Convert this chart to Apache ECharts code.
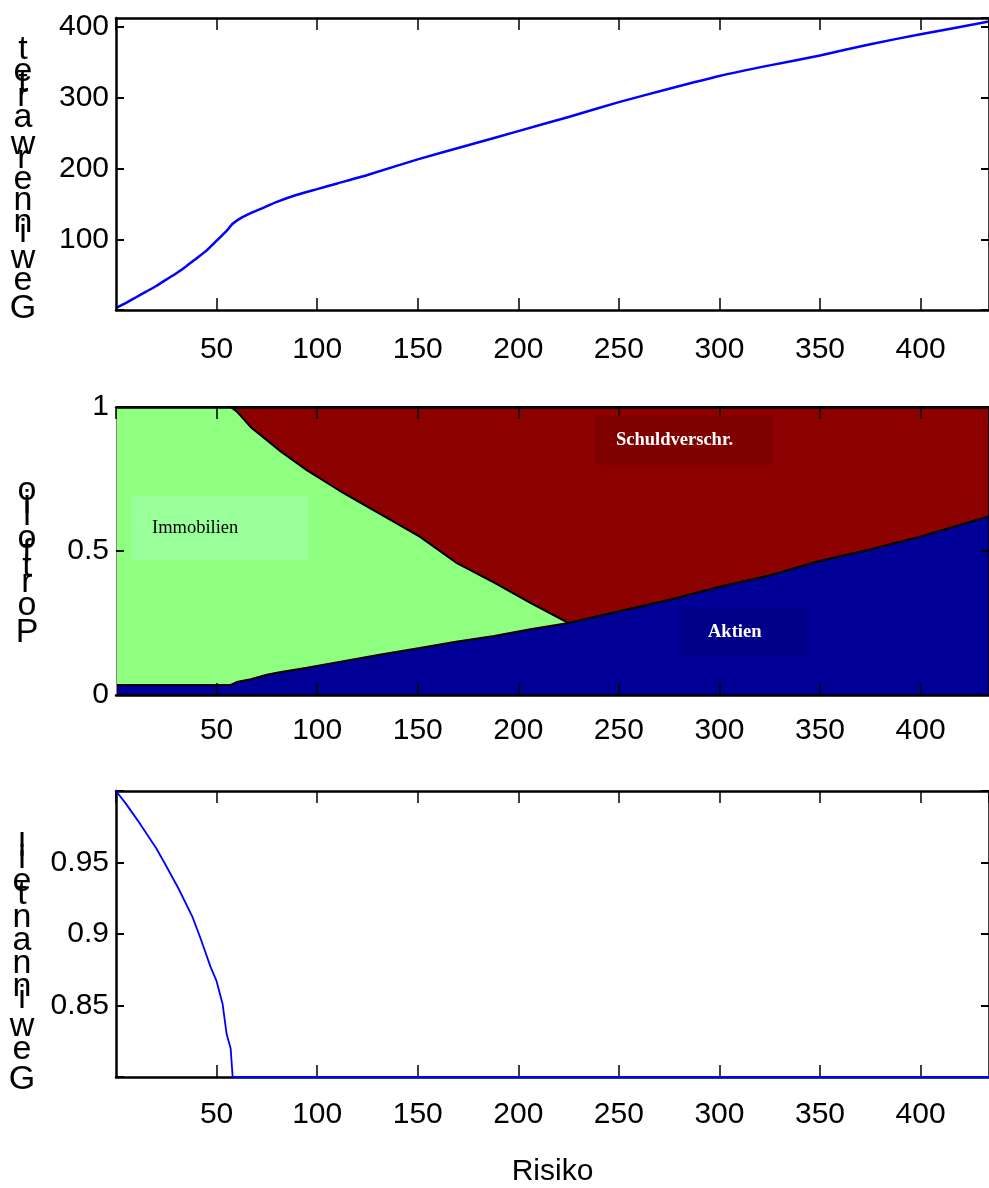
<!DOCTYPE html>
<html><head><meta charset="utf-8">
<script src="https://cdn.jsdelivr.net/npm/echarts@6/dist/echarts.min.js"></script>
<style>html,body{margin:0;padding:0;background:#fff}#c{width:989px;height:1188px}</style>
</head><body><div id="c"></div>
<script>
// ---- data ----
const x1 = [0,5,10,15,20,25,30,35,40,45,50,55,58,62,67,72,80,90,100,110,125,150,175,200,225,250,275,300,325,350,375,400,434];
const gewinnwert = [3,10,18,26,34,43,52,62,73,84,98,112,122,130,137,143,153,163,171,179,191,213,233,253,273,294,313,331,346,360,376,390,408];

const x2 = [0,57,60,67,75,82,95,111,131,151,169,188,206,225,250,275,300,325,350,375,400,434];
const aktien = [0.035,0.035,0.045,0.055,0.07,0.08,0.095,0.115,0.14,0.163,0.185,0.205,0.228,0.25,0.29,0.33,0.375,0.415,0.465,0.505,0.55,0.62];
const immobilien = [0.965,0.965,0.94,0.875,0.815,0.765,0.685,0.595,0.49,0.387,0.275,0.185,0.092,0,0,0,0,0,0,0,0,0];
const schuldverschr = [0,0,0.015,0.07,0.115,0.155,0.22,0.29,0.37,0.45,0.54,0.61,0.68,0.75,0.71,0.67,0.625,0.585,0.535,0.495,0.45,0.38];

const x3 = [0,5,12,20,24,31,38,42,47,50,53,55,57,58,434];
const gewinnanteil = [1.0,0.991,0.977,0.96,0.95,0.932,0.912,0.897,0.877,0.867,0.851,0.83,0.82,0.8,0.8];

const yTitles = ['Gewinnerwartet','Portfolio','Gewinnanteil'];
const xTitle = 'Risiko';
const areaNames = ['Aktien','Immobilien','Schuldverschr.'];

// ---- styles ----
const F = "'Liberation Sans',Arial,sans-serif";
const SERIF = "'Liberation Serif','Times New Roman',serif";
const FS = 30;
const TFS = 34;
const grids = [
  {left:116, top:18, width:877, height:292},
  {left:116, top:407, width:877, height:288},
  {left:116, top:791, width:877, height:290}
];
const yRanges = [
  {min:0, max:413, interval:100, hide:[0]},
  {min:0, max:1, interval:0.5, hide:[]},
  {min:0.8, max:1.0, interval:0.05, hide:[0.8,1.0]}
];
const xLabelMargin = [25, 21, 23];

const xAxes = [], yAxes = [];
grids.forEach((g, i) => {
  const lineStyle = {color:'#000', width:2.5};
  xAxes.push({gridIndex:i, type:'value', min:0, max:434, interval:50, position:'bottom', z:10,
    axisLine:{show:true, onZero:false, lineStyle},
    axisTick:{show:true, inside:true, length:12, lineStyle:{color:'#000', width:1.5}},
    axisLabel:{show:true, margin:xLabelMargin[i], color:'#000', fontFamily:F, fontSize:FS,
      showMinLabel:false, showMaxLabel:false, formatter:v => v===0 ? '' : String(v)},
    splitLine:{show:false},
    name: i===2 ? xTitle : '', nameLocation:'middle', nameGap:80,
    nameTextStyle:{color:'#000', fontFamily:F, fontSize:FS}
  });
  xAxes.push({gridIndex:i, type:'value', min:0, max:434, interval:50, position:'top', z:10,
    axisLine:{show:true, onZero:false, lineStyle},
    axisTick:{show:true, inside:true, length:12, lineStyle:{color:'#000', width:1.5}},
    axisLabel:{show:false}, splitLine:{show:false}});
  const r = yRanges[i];
  yAxes.push({gridIndex:i, type:'value', min:r.min, max:r.max, interval:r.interval, position:'left', z:10,
    axisLine:{show:true, onZero:false, lineStyle: i===1 ? {color:'#888', width:1} : lineStyle},
    axisTick:{show:true, inside:true, length:8, lineStyle:{color:'#000', width:2}},
    axisLabel:{show:true, margin:7, color:'#000', fontFamily:F, fontSize:FS,
      formatter:v => r.hide.some(h => Math.abs(h-v)<1e-9) ? '' : String(+v.toFixed(2))},
    splitLine:{show:false}});
  yAxes.push({gridIndex:i, type:'value', min:r.min, max:r.max, interval:r.interval, position:'right', z:10,
    axisLine:{show:true, onZero:false, lineStyle},
    axisTick:{show:true, inside:true, length:8, lineStyle:{color:'#000', width:2}},
    axisLabel:{show:false}, splitLine:{show:false}});
});

// cumulative tops for panel 2
const topGreen = aktien.map((a, k) => a + immobilien[k]);
const topRed = topGreen.map((g, k) => g + schuldverschr[k]);

const series = [
  {type:'line', xAxisIndex:0, yAxisIndex:0, data:x1.map((x,k)=>[x, gewinnwert[k]]),
   symbol:'none', smooth:0.2, lineStyle:{color:'#0000ff', width:2.5}, z:2},
  {type:'line', name:areaNames[2], xAxisIndex:2, yAxisIndex:2, data:x2.map((x,k)=>[x, topRed[k]]),
   symbol:'none', lineStyle:{color:'#000', width:2}, areaStyle:{color:'#8c0000', opacity:1, origin:'start'}, z:1},
  {type:'line', name:areaNames[1], xAxisIndex:2, yAxisIndex:2, data:x2.map((x,k)=>[x, topGreen[k]]),
   symbol:'none', lineStyle:{color:'#000', width:2}, areaStyle:{color:'#8fff80', opacity:1, origin:'start'}, z:2},
  {type:'line', name:areaNames[0], xAxisIndex:2, yAxisIndex:2, data:x2.map((x,k)=>[x, aktien[k]]),
   symbol:'none', lineStyle:{color:'#000', width:2}, areaStyle:{color:'#000096', opacity:1, origin:'start'}, z:3},
  {type:'line', xAxisIndex:4, yAxisIndex:4, data:x3.map((x,k)=>[x, gewinnanteil[k]]),
   symbol:'none', clip:false, lineStyle:{color:'#0000ff', width:1.8}, z:12}
];

// stacked-character axis titles
function stackTitle(text, cx, bottom, top) {
  const ctx = document.createElement('canvas').getContext('2d');
  ctx.font = TFS + 'px ' + F;
  const chars = [...text];
  const ws = chars.map(ch => ctx.measureText(ch).width);
  const hLast = ctx.measureText(chars[chars.length-1]).actualBoundingBoxAscent || TFS*0.7;
  const n = chars.length;
  const sumW = ws.slice(0, n-1).reduce((a,b)=>a+b, 0);
  const c = ((bottom - top - hLast) - sumW) / (n-1);
  let base = bottom;
  const els = [];
  chars.forEach((ch, i) => {
    els.push({type:'text', x:cx, y:base - TFS*0.35, z:20,
      style:{text:ch, fill:'#000', font:TFS+'px '+F, textAlign:'center', textVerticalAlign:'middle'}});
    base -= ws[i] + c;
  });
  return els;
}
const titleSpecs = [
  {cx:23, bottom:321, top:40},
  {cx:27, bottom:645, top:485},
  {cx:22, bottom:1092, top:835}
];
let graphics = [];
yTitles.forEach((t, i) => { graphics = graphics.concat(stackTitle(t, titleSpecs[i].cx, titleSpecs[i].bottom, titleSpecs[i].top)); });

// annotation boxes in panel 2
const boxes = [
  {name:areaNames[1], x:131, y:496, w:177, h:64, fill:'#99ff99', color:'#000', bold:false, tx:152},
  {name:areaNames[2], x:595, y:416, w:178, h:49, fill:'#800000', color:'#fff', bold:true, tx:616},
  {name:areaNames[0], x:680, y:608, w:128, h:49, fill:'#00008a', color:'#fff', bold:true, tx:708}
];
boxes.forEach(b => {
  graphics.push({type:'rect', shape:{x:b.x, y:b.y, width:b.w, height:b.h}, style:{fill:b.fill}, z:15});
  graphics.push({type:'text', x:b.tx, y:b.y + b.h/2, z:16,
    style:{text:b.name, fill:b.color, font:(b.bold?'bold ':'') + '18.5px ' + SERIF, textAlign:'left', textVerticalAlign:'middle'}});
});

const chart = echarts.init(document.getElementById('c'), null, {renderer:'canvas'});
chart.setOption({
  animation:false,
  backgroundColor:'#fff',
  grid: grids,
  xAxis: xAxes,
  yAxis: yAxes,
  series: series,
  graphic: graphics
});
</script></body></html>
